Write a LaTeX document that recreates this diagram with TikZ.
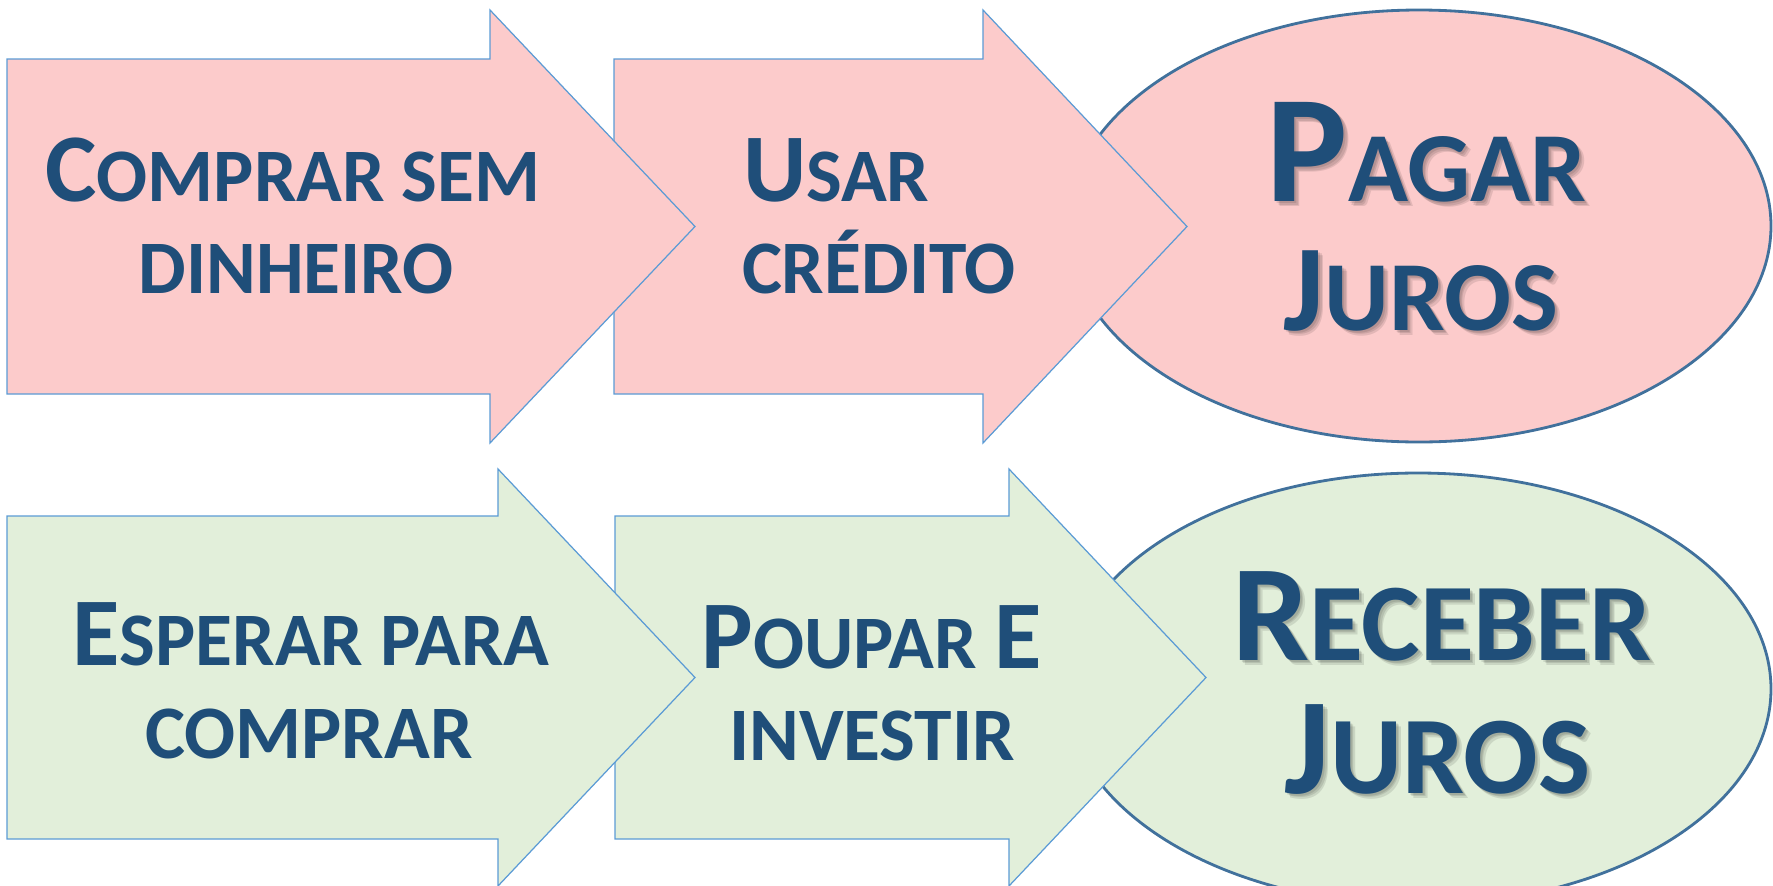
\documentclass[tikz,border=0pt]{standalone}
\usepackage{fontspec}
\setmainfont{Carlito}
\definecolor{pinkfill}{HTML}{FCCBCB}
\definecolor{greenfill}{HTML}{E2EFDA}
\definecolor{arrowline}{HTML}{5B9BD5}
\definecolor{ellline}{HTML}{41719C}
\definecolor{txt}{HTML}{1F4E79}
\newcommand\fsz[1]{\fontsize{#1}{#1}\selectfont}
\begin{document}
\begin{tikzpicture}[x=0.1mm,y=-0.1mm,
  arrowbox/.style={draw=arrowline, line width=0.35pt, line join=miter},
  ellbox/.style={draw=ellline, line width=0.8pt},
  lbl/.style={inner sep=0pt, outer sep=0pt, anchor=base, text=txt, font=\bfseries},
  lblw/.style={lbl, anchor=base west},
  shd/.style={lbl, text=black, opacity=0.1}]
\useasboundingbox (0,0) rectangle (1773,885);

% ---------- top row ----------
\draw[ellbox, fill=pinkfill] (1419,226) ellipse [x radius=35.2mm, y radius=21.6mm];
\draw[arrowbox, fill=pinkfill] (614,59) -- (983,59) -- (983,10) -- (1187,226.5) -- (983,443) -- (983,394) -- (614,394) -- cycle;
\draw[arrowbox, fill=pinkfill] (7,59) -- (490,59) -- (490,10) -- (695,226.5) -- (490,443) -- (490,394) -- (7,394) -- cycle;

\node[lbl] (t1a) at (293,201.7) {\fsz{27.6}C\fsz{21.5}OMPRAR SEM};
\node[lbl] (t1b) at (296,293) {\fsz{21.5}DINHEIRO};

\node[lblw] (t2a) at (743,201.7) {\fsz{27.6}U\fsz{21.5}SAR};
\node[lblw] (t2b) at (742,293) {\fsz{21.5}CRÉDITO};

\foreach \d [count=\i] in {2,3.5,5} {
  \node[shd] (t3as\i) at (1426.5+\d,201.7+\d) {\fsz{43.5}P\fsz{28.2}AGAR};
  \node[shd] (t3bs\i) at (1421+\d,330+\d) {\fsz{35}J\fsz{28.2}UROS};
}
\node[lbl] (t3a) at (1426.5,201.7) {\fsz{43.5}P\fsz{28.2}AGAR};
\node[lbl] (t3b) at (1421,330) {\fsz{35}J\fsz{28.2}UROS};

% ---------- bottom row ----------
\draw[ellbox, fill=greenfill] (1418,689) ellipse [x radius=35.3mm, y radius=21.6mm];
\draw[arrowbox, fill=greenfill] (615,516) -- (1009,516) -- (1009,469) -- (1206,677.5) -- (1009,886) -- (1009,839) -- (615,839) -- cycle;
\draw[arrowbox, fill=greenfill] (7,516) -- (498,516) -- (498,469) -- (695,677.5) -- (498,886) -- (498,839) -- (7,839) -- cycle;

\node[lbl] (b1a) at (311,665.7) {\fsz{27.6}E\fsz{21.5}SPERAR PARA};
\node[lbl] (b1b) at (309,758) {\fsz{21.5}COMPRAR};

\node[lbl] (b2a) at (871.5,668) {\fsz{27.6}P\fsz{21.5}OUPAR \fsz{27.6}E};
\node[lbl] (b2b) at (872,760) {\fsz{21.5}INVESTIR};

\foreach \d [count=\i] in {2,3.5,5} {
  \node[shd] (b3as\i) at (1442+\d,660+\d) {\fsz{39}R\fsz{31.4}ECEBER};
  \node[shd] (b3bs\i) at (1437.5+\d,793+\d) {\fsz{39}J\fsz{31.4}UROS};
}
\node[lbl] (b3a) at (1442,660) {\fsz{39}R\fsz{31.4}ECEBER};
\node[lbl] (b3b) at (1437.5,793) {\fsz{39}J\fsz{31.4}UROS};
\end{tikzpicture}
\end{document}
